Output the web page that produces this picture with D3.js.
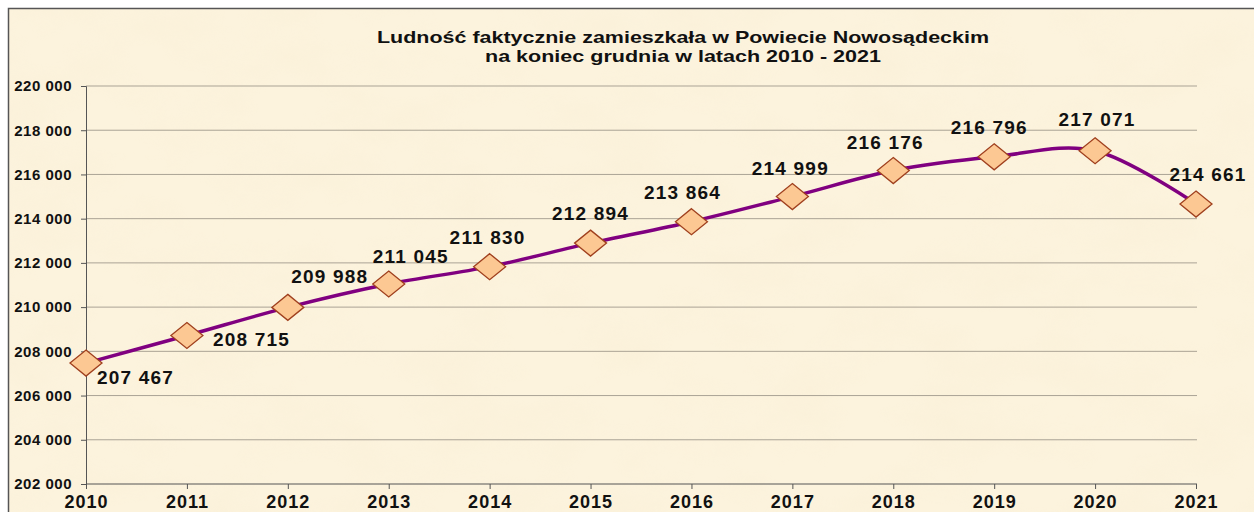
<!DOCTYPE html>
<html>
<head>
<meta charset="utf-8">
<script src="https://cdn.jsdelivr.net/npm/d3@7"></script>
<style>
  body { margin: 0; background: #fff; }
  svg { display: block; font-family: "Liberation Sans", Arial, sans-serif; }
</style>
</head>
<body>
<svg id="chart" width="1254" height="512"></svg>
<script>
// data
const years = [2010, 2011, 2012, 2013, 2014, 2015, 2016, 2017, 2018, 2019, 2020, 2021];
const population = [207467, 208715, 209988, 211045, 211830, 212894, 213864, 214999, 216176, 216796, 217071, 214661];
const yTicks = [202000, 204000, 206000, 208000, 210000, 212000, 214000, 216000, 218000, 220000];
const titleLines = ["Ludność faktycznie zamieszkała w Powiecie Nowosądeckim", "na koniec grudnia w latach 2010 - 2021"];

const svg = d3.select("#chart");
const width = 1254, height = 512;
const margin = {top: 86, right: 57, bottom: 28, left: 86};

// background with parchment texture
const defs = svg.append("defs");
const filt = defs.append("filter").attr("id", "paper")
    .attr("x", 0).attr("y", 0).attr("width", "100%").attr("height", "100%");
filt.append("feTurbulence")
    .attr("type", "fractalNoise")
    .attr("baseFrequency", "0.012 0.02")
    .attr("numOctaves", 4)
    .attr("seed", 7);
filt.append("feColorMatrix")
    .attr("type", "matrix")
    .attr("values", "0 0 0 0 0.92  0 0 0 0 0.82  0 0 0 0 0.62  1.1 0 0 0 -0.45");

svg.append("rect")
    .attr("x", 8).attr("y", 8)
    .attr("width", width).attr("height", height)
    .attr("fill", "#fcf3dd");
svg.append("rect")
    .attr("x", 8).attr("y", 8)
    .attr("width", width).attr("height", height)
    .attr("filter", "url(#paper)")
    .attr("opacity", 0.4);
svg.append("path")
    .attr("d", "M8.5," + height + "V8.5H" + width)
    .attr("fill", "none")
    .attr("stroke", "#555")
    .attr("stroke-width", 1.5);

// title
const titleWidths = [612, 396];
svg.append("text")
    .attr("y", 43)
    .attr("text-anchor", "middle")
    .attr("fill", "#111")
    .style("font-weight", "bold")
    .style("font-size", "17px")
    .selectAll("tspan").data(titleLines).enter().append("tspan")
    .attr("x", 683)
    .attr("dy", (d, i) => i === 0 ? 0 : 19)
    .attr("textLength", (d, i) => titleWidths[i])
    .attr("lengthAdjust", "spacingAndGlyphs")
    .text(d => d);

// scales
const x = d3.scalePoint()
    .domain(years)
    .range([margin.left, width - margin.right - 1]);
const y = d3.scaleLinear()
    .domain([202000, 220000])
    .range([height - margin.bottom, margin.top]);

const fmt = v => d3.format(",")(v).replace(/,/g, " ");

// grid
svg.append("g").attr("class", "grid")
    .selectAll("line").data(yTicks.slice(1)).enter().append("line")
    .attr("x1", margin.left).attr("x2", width - margin.right)
    .attr("y1", d => y(d)).attr("y2", d => y(d))
    .attr("stroke", "#aaa395")
    .attr("stroke-width", 1);

// y axis
const yAxis = svg.append("g")
    .attr("transform", "translate(" + margin.left + ",0)")
    .call(d3.axisLeft(y).tickValues(yTicks).tickSize(5).tickPadding(9).tickFormat(fmt));
yAxis.select(".domain").attr("stroke", "#555");
yAxis.selectAll(".tick line").attr("stroke", "#555");
yAxis.selectAll("text")
    .attr("fill", "#111")
    .style("font-size", "15px")
    .style("font-weight", "bold")
    .style("letter-spacing", "0.5px");

// x axis
const xAxis = svg.append("g")
    .attr("transform", "translate(0," + y(202000) + ")")
    .call(d3.axisBottom(x).tickSize(5).tickPadding(6).tickSizeOuter(0));
xAxis.select(".domain").attr("stroke", "#555")
    .attr("d", "M" + margin.left + ",0H" + (width - margin.right));
xAxis.selectAll(".tick line").attr("stroke", "#555");
xAxis.selectAll("text")
    .attr("fill", "#111")
    .style("font-size", "18px")
    .style("font-weight", "bold")
    .style("letter-spacing", "1px");

// line
const line = d3.line()
    .x((d, i) => x(years[i]))
    .y(d => y(d))
    .curve(d3.curveCatmullRom.alpha(0));
svg.append("path")
    .datum(population)
    .attr("d", line)
    .attr("fill", "none")
    .attr("stroke", "#800080")
    .attr("stroke-width", 3.5);

// markers
const dw = 16, dh = 13;
svg.append("g").selectAll("path").data(population).enter().append("path")
    .attr("transform", (d, i) => "translate(" + x(years[i]) + "," + y(d) + ")")
    .attr("d", "M0," + (-dh) + "L" + dw + ",0L0," + dh + "L" + (-dw) + ",0Z")
    .attr("fill", "#fcc893")
    .attr("stroke", "#a0401e")
    .attr("stroke-width", 1.3);

// data labels (offset from marker)
const labelOffset = [[11, 21], [26, 10], [42, -24], [22, -21], [-2, -23], [0, -23],
                     [-9, -23], [-2, -22], [-8, -22], [-5, -23], [2, -25], [12, -23]];
svg.append("g").selectAll("text").data(population).enter().append("text")
    .attr("x", (d, i) => x(years[i]) + labelOffset[i][0])
    .attr("y", (d, i) => y(d) + labelOffset[i][1])
    .attr("text-anchor", (d, i) => i < 2 ? "start" : "middle")
    .attr("fill", "#111")
    .style("font-size", "19px")
    .style("font-weight", "bold")
    .style("letter-spacing", "1.2px")
    .text(d => fmt(d));
</script>
</body>
</html>
